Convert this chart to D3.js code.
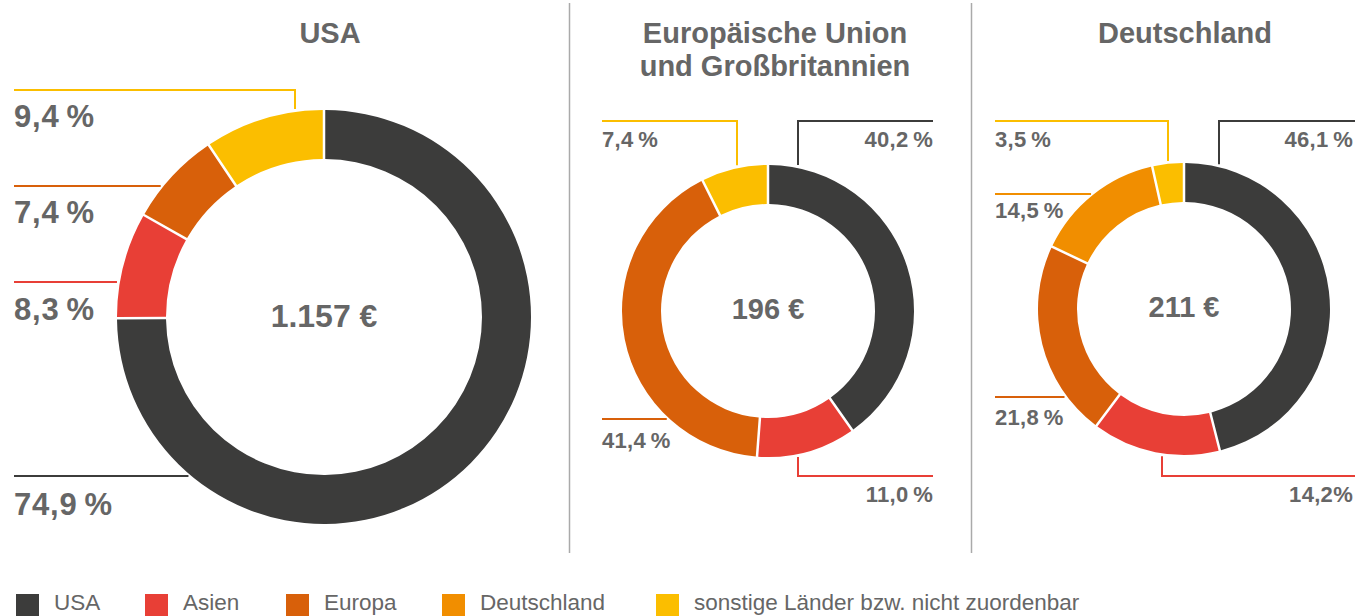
<!DOCTYPE html>
<html lang="de">
<head>
<meta charset="utf-8">
<script src="https://cdn.jsdelivr.net/npm/d3@7/dist/d3.min.js"></script>
<style>
  html, body { margin: 0; padding: 0; background: #fff; }
  svg { display: block; font-family: "Liberation Sans", Arial, Helvetica, sans-serif; }
  .title { font-size: 29px; font-weight: bold; fill: #666; }
  .total { font-weight: bold; fill: #666; }
  .share { font-weight: bold; fill: #666; }
  .legend-text { font-size: 22.5px; fill: #666; }
</style>
</head>
<body>
<svg id="chart"></svg>
<script>
// categories shared by all three donuts (clockwise order from 12 o'clock)
const categories = ["USA", "Asien", "Europa", "Deutschland", "sonstige Länder bzw. nicht zuordenbar"];
const colors = ["#3c3c3b", "#e83f36", "#d8600a", "#f18e00", "#fbbe00"];

const panelTitles = [["USA"], ["Europäische Union", "und Großbritannien"], ["Deutschland"]];
const totals = ["1.157 €", "196 €", "211 €"];

// shares in percent, same order as categories (0 = not shown)
const usaShares = [74.9, 8.3, 7.4, 0, 9.4];
const euShares = [40.2, 11.0, 41.4, 0, 7.4];
const deShares = [46.1, 14.2, 21.8, 14.5, 3.5];

const W = 1366, H = 616;

// layout per panel: geometry plus where each leader line / label goes
const panels = [
  {
    shares: usaShares, cx: 324, cy: 317, r: 207, ir: 158, titleX: 330, totalSize: 32, labelSize: 31,
    leaders: [
      { cat: 4, y: 90, far: 14, vx: 295, lx: 14, ly: 127, anchor: "start" },
      { cat: 2, y: 186, far: 14, lx: 14, ly: 223, anchor: "start" },
      { cat: 1, y: 282, far: 14, lx: 14, ly: 320, anchor: "start" },
      { cat: 0, y: 476, far: 14, lx: 14, ly: 515, anchor: "start" }
    ]
  },
  {
    shares: euShares, cx: 768, cy: 311, r: 146, ir: 107, titleX: 775, totalSize: 29, labelSize: 22,
    leaders: [
      { cat: 0, y: 121, far: 933, vx: 798, lx: 933, ly: 147, anchor: "end" },
      { cat: 4, y: 121, far: 602, vx: 737, lx: 602, ly: 147, anchor: "start" },
      { cat: 2, y: 419, far: 602, lx: 602, ly: 448, anchor: "start" },
      { cat: 1, y: 476, far: 933, vx: 798, lx: 933, ly: 502, anchor: "end" }
    ]
  },
  {
    shares: deShares, cx: 1184, cy: 309, r: 146, ir: 107, titleX: 1185, totalSize: 29, labelSize: 22,
    leaders: [
      { cat: 0, y: 121, far: 1355, vx: 1219, lx: 1353, ly: 147, anchor: "end" },
      { cat: 4, y: 121, far: 995, vx: 1168, lx: 995, ly: 147, anchor: "start" },
      { cat: 3, y: 194, far: 995, lx: 995, ly: 218, anchor: "start" },
      { cat: 2, y: 397, far: 995, lx: 995, ly: 425, anchor: "start" },
      { cat: 1, y: 476, far: 1355, vx: 1162, lx: 1353, ly: 502, anchor: "end", tight: true }
    ]
  }
];

const svg = d3.select("#chart").attr("width", W).attr("height", H);

const fmtNum = d3.formatLocale({ decimal: ",", thousands: ".", grouping: [3], currency: ["", " €"] }).format(".1f");

// vertical divider lines between panels
svg.selectAll("line.divider")
  .data([569.5, 971.5])
  .enter()
  .append("line")
  .attr("class", "divider")
  .attr("x1", d => d).attr("x2", d => d)
  .attr("y1", 3).attr("y2", 553)
  .attr("stroke", "#aaa")
  .attr("stroke-width", 1.5);

const pie = d3.pie().sort(null).value(d => d.value);
const gap = 3; // distance between leader end and arc

panels.forEach((p, pi) => {
  const data = p.shares
    .map((v, i) => ({ cat: i, value: v }))
    .filter(d => d.value > 0);

  const arc = d3.arc().innerRadius(p.ir).outerRadius(p.r).padRadius(100).padAngle(0.025);

  const g = svg.append("g").attr("transform", `translate(${p.cx},${p.cy})`);

  g.selectAll("path.slice")
    .data(pie(data))
    .enter()
    .append("path")
    .attr("class", "slice")
    .attr("d", arc)
    .attr("fill", d => colors[d.data.cat]);

  g.append("text")
    .attr("class", "total")
    .attr("text-anchor", "middle")
    .attr("dy", "0.36em")
    .attr("y", -2)
    .style("font-size", p.totalSize + "px")
    .text(totals[pi]);

  // title
  svg.append("text")
    .attr("class", "title")
    .attr("text-anchor", "middle")
    .selectAll("tspan")
    .data(panelTitles[pi])
    .enter()
    .append("tspan")
    .attr("x", p.titleX)
    .attr("y", (d, i) => 43 + i * 33)
    .text(d => d);

  // leader lines: horizontal to the arc, or elbow down/up to the arc
  p.leaders.forEach(l => {
    let pts;
    if (l.vx === undefined) {
      const dy = l.y - p.cy;
      const ax = p.cx - Math.sqrt(p.r * p.r - dy * dy) - gap;
      pts = [[l.far, l.y], [ax, l.y]];
    } else {
      const dx = l.vx - p.cx;
      const h = Math.sqrt(p.r * p.r - dx * dx) + gap;
      const ay = l.y < p.cy ? p.cy - h : p.cy + h;
      pts = [[l.far, l.y], [l.vx, l.y], [l.vx, ay]];
    }
    svg.append("path")
      .attr("d", d3.line()(pts))
      .attr("fill", "none")
      .attr("stroke", colors[l.cat])
      .attr("stroke-width", 2);

    svg.append("text")
      .attr("class", "share")
      .attr("x", l.lx)
      .attr("y", l.ly)
      .attr("text-anchor", l.anchor)
      .style("font-size", p.labelSize + "px")
      .style("letter-spacing", pi === 0 ? "0.8px" : "0.3px")
      .text(fmtNum(p.shares[l.cat]) + (l.tight ? "%" : "\u2009%"));
  });
});

// legend
const legendX = [16, 145, 286, 442, 656];
const legend = svg.selectAll("g.legend")
  .data(categories)
  .enter()
  .append("g")
  .attr("class", "legend")
  .attr("transform", (d, i) => `translate(${legendX[i]},594)`);

legend.append("rect")
  .attr("width", 23)
  .attr("height", 23)
  .attr("fill", (d, i) => colors[i]);

legend.append("text")
  .attr("class", "legend-text")
  .attr("x", 38)
  .attr("y", 16)
  .text(d => d);
</script>
</body>
</html>
